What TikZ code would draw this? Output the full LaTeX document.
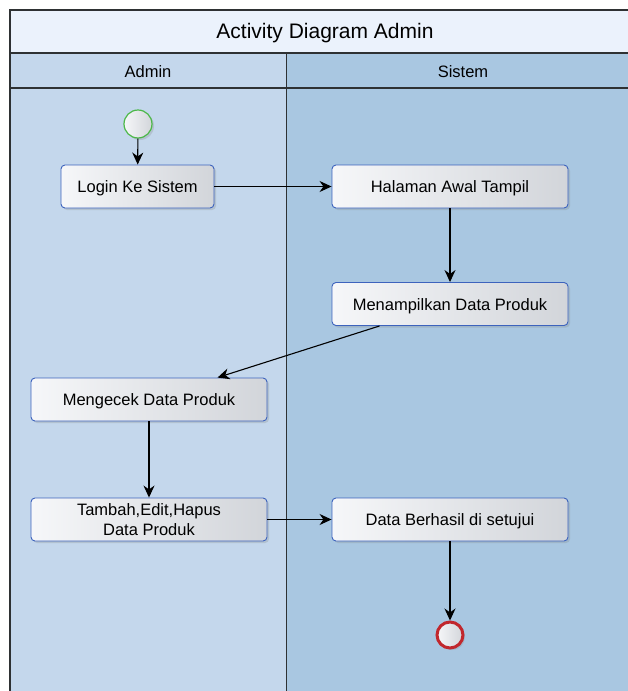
\documentclass[tikz,border=0pt]{standalone}
\usepackage{fontspec}
\setmainfont{Liberation Sans}
\usetikzlibrary{arrows.meta,shadows}
\definecolor{titlefill}{HTML}{EBF2FC}
\definecolor{adminlane}{HTML}{C4D7EC}
\definecolor{sistemlane}{HTML}{A9C7E1}
\definecolor{frameline}{HTML}{2E3133}
\definecolor{boxline}{HTML}{3D63BD}
\definecolor{boxlight}{HTML}{F6F7F9}
\definecolor{boxdark}{HTML}{D2D5DA}
\definecolor{startline}{HTML}{4CB848}
\definecolor{endline}{HTML}{C1272D}
\tikzset{
  action/.style={rectangle, rounded corners=4pt, draw=boxline, line width=0.9pt,
    left color=boxlight, right color=boxdark, minimum height=43pt,
    align=center, font=\fontsize{16.5}{20}\selectfont,
    drop shadow={shadow xshift=2pt, shadow yshift=-2pt, opacity=0.25}},
  oneline/.style={text height=14pt, text depth=2pt},
  startnode/.style={circle, draw=startline, line width=1.2pt, minimum size=28pt,
    inner sep=0pt, left color=boxlight, right color=boxdark,
    drop shadow={shadow xshift=2pt, shadow yshift=-2pt, opacity=0.25}},
  endnode/.style={circle, draw=endline, line width=3pt, minimum size=26pt,
    inner sep=0pt, left color=boxlight, right color=boxdark,
    drop shadow={shadow xshift=2pt, shadow yshift=-2pt, opacity=0.25}},
  flow/.style={-{Stealth[length=12pt,width=11pt]}, line width=1.1pt, black},
  lanetext/.style={font=\fontsize{16.5}{20}\selectfont}
}
\begin{document}
\begin{tikzpicture}[x=1pt,y=-1pt]
\useasboundingbox (0,0) rectangle (628,691);
\clip (0,0) rectangle (628,691);
% swimlane frame
\fill[titlefill] (10,10) rectangle (640,53);
\fill[adminlane] (10,53) rectangle (286,700);
\fill[sistemlane] (286,53) rectangle (640,700);
\draw[frameline, line width=1.2pt] (10,700) -- (10,10) -- (640,10);
\draw[frameline, line width=1.2pt] (10,53) -- (640,53);
\draw[frameline, line width=1.2pt] (10,88) -- (640,88);
\draw[frameline, line width=1pt] (286,53) -- (286,700);
\node[font=\fontsize{21}{24}\selectfont] (title) at (325,33) {Activity Diagram Admin};
\node[lanetext] (hadmin) at (148,72) {Admin};
\node[lanetext] (hsistem) at (463,72) {Sistem};
% activities
\node[startnode] (start) at (138,124) {};
\node[action, oneline, minimum width=153pt] (login) at (137.5,186.5) {Login Ke Sistem};
\node[action, oneline, minimum width=236pt] (awal) at (450,186.5) {Halaman Awal Tampil};
\node[action, oneline, minimum width=236pt] (tampil) at (450,304) {Menampilkan Data Produk};
\node[action, oneline, minimum width=236pt] (cek) at (149,399.5) {Mengecek Data Produk};
\node[action, minimum width=236pt, inner sep=1pt] (ubah) at (149,519.5) {Tambah,Edit,Hapus\\Data Produk};
\node[action, oneline, minimum width=236pt] (setuju) at (450,519.5) {Data Berhasil di setujui};
\node[endnode] (stop) at (450,635) {};
% control flow
\draw[flow] (start) -- (login);
\draw[flow] (login) -- (awal);
\draw[flow] (awal) -- (tampil);
\draw[flow] ([xshift=48pt]tampil.south west) -- ([xshift=187pt]cek.north west);
\draw[flow] (cek) -- (ubah);
\draw[flow] (ubah) -- (setuju);
\draw[flow] (setuju) -- (stop);
\end{tikzpicture}
\end{document}
